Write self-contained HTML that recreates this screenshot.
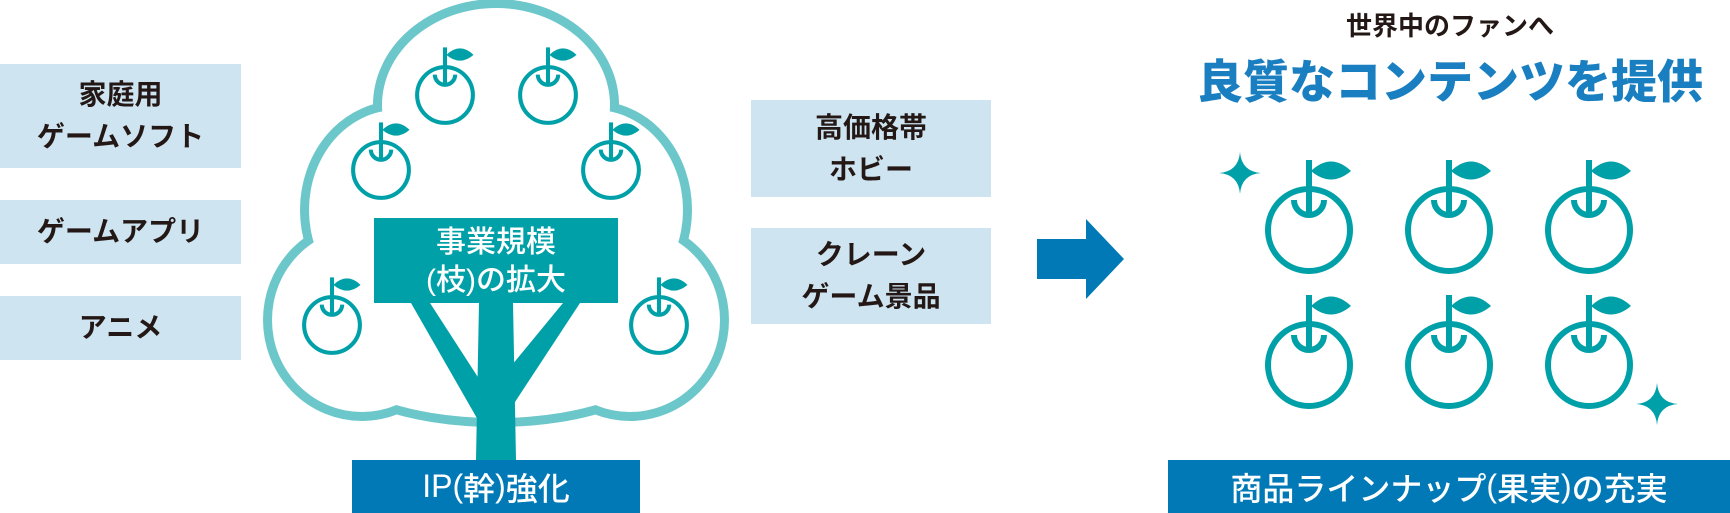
<!DOCTYPE html>
<html><head><meta charset="utf-8"><style>
body{margin:0;width:1730px;height:513px;background:#fff;overflow:hidden;position:relative;font-family:"Liberation Sans","Noto Sans CJK JP",sans-serif;font-weight:700}
.b{position:absolute;background:#cee5f1;color:#231815;display:flex;flex-direction:column;justify-content:center;align-items:center;font-size:28px;line-height:42px}
.t{position:absolute;display:flex;justify-content:center;align-items:center;color:#fff;white-space:nowrap}
.p{font-family:"Liberation Sans",sans-serif;font-weight:400}
svg{position:absolute;left:0;top:0}
</style></head><body>
<svg width="1730" height="513" viewBox="0 0 1730 513">
<defs>
<g id="ap">
<circle cx="0" cy="0" r="41" fill="none" stroke="#00a0a8" stroke-width="6"/>
<line x1="0" y1="-70" x2="0" y2="-17" stroke="#00a0a8" stroke-width="6"/>
<path d="M-15 -30 A15 15 0 0 0 15 -30" fill="none" stroke="#00a0a8" stroke-width="6"/>
<path d="M2 -59 Q22 -78 42 -59 Q22 -42 2 -59 Z" fill="#00a0a8"/>
</g>
<g id="sp"><path d="M0 -21 Q1.5 -1.5 21 0 Q1.5 1.5 0 21 Q-1.5 1.5 -21 0 Q-1.5 -1.5 0 -21Z" fill="#00a0a8"/></g>
</defs>
<g stroke="#6cc7cb" stroke-width="18" fill="#6cc7cb">
<ellipse cx="496" cy="105" rx="114" ry="97"/>
<ellipse cx="397" cy="210" rx="88" ry="100"/><ellipse cx="595" cy="210" rx="88" ry="100"/>
<ellipse cx="362" cy="320" rx="90" ry="92"/><ellipse cx="630" cy="320" rx="90" ry="92"/>
<ellipse cx="496" cy="350" rx="170" ry="68"/>
<ellipse cx="496" cy="250" rx="170" ry="120"/>
</g>
<g fill="#fff">
<ellipse cx="496" cy="105" rx="114" ry="97"/>
<ellipse cx="397" cy="210" rx="88" ry="100"/><ellipse cx="595" cy="210" rx="88" ry="100"/>
<ellipse cx="362" cy="320" rx="90" ry="92"/><ellipse cx="630" cy="320" rx="90" ry="92"/>
<ellipse cx="496" cy="350" rx="170" ry="68"/>
<ellipse cx="496" cy="250" rx="170" ry="120"/>
</g>
<g fill="#00a0a8">
<polygon points="479,303 513,303 516,460 476,460"/>
<polygon points="411,303 430,303 483,385 478,420"/>
<polygon points="563,303 580,303 513,405 512,365"/>
<rect x="374" y="218" width="244" height="85"/>
</g>
<use href="#ap" transform="translate(445,95) scale(.68)"/>
<use href="#ap" transform="translate(548,95) scale(.68)"/>
<use href="#ap" transform="translate(381,170) scale(.68)"/>
<use href="#ap" transform="translate(611,170) scale(.68)"/>
<use href="#ap" transform="translate(332,325) scale(.68)"/>
<use href="#ap" transform="translate(659,325) scale(.68)"/>
<use href="#ap" transform="translate(1309,230)"/>
<use href="#ap" transform="translate(1449,230)"/>
<use href="#ap" transform="translate(1589,230)"/>
<use href="#ap" transform="translate(1309,365)"/>
<use href="#ap" transform="translate(1449,365)"/>
<use href="#ap" transform="translate(1589,365)"/>
<use href="#sp" transform="translate(1240,173)"/>
<use href="#sp" transform="translate(1657,404)"/>
<polygon points="1037,239 1086,239 1086,219 1124,259 1086,299 1086,279 1037,279" fill="#0079b6"/>
<rect x="352" y="460" width="288" height="53" fill="#0079b6"/>
<rect x="1168" y="460" width="562" height="53" fill="#0079b6"/>
</svg>
<div class="b" style="left:0;top:64px;width:241px;height:104px"><div>家庭用</div><div>ゲームソフト</div></div>
<div class="b" style="left:0;top:200px;width:241px;height:64px">ゲームアプリ</div>
<div class="b" style="left:0;top:296px;width:241px;height:64px">アニメ</div>
<div class="b" style="left:751px;top:100px;width:240px;height:97px"><div>高価格帯</div><div>ホビー</div></div>
<div class="b" style="left:751px;top:228px;width:240px;height:96px"><div>クレーン</div><div>ゲーム景品</div></div>
<div class="t" style="left:374px;top:222px;width:244px;height:80px;flex-direction:column;font-size:30px;line-height:38px;font-weight:500"><div>事業規模</div><div><span class="p">(</span>枝<span class="p">)</span>の拡大</div></div>
<div class="t" style="left:352px;top:460px;width:288px;height:53px;font-size:32px;font-weight:500">IP<span class="p">(</span>幹<span class="p">)</span>強化</div>
<div class="t" style="left:1168px;top:460px;width:562px;height:53px;font-size:32px;font-weight:500">商品ラインナップ<span class="p">(</span>果実<span class="p">)</span>の充実</div>
<div class="t" style="left:1250px;top:6px;width:400px;height:36px;font-size:26px;color:#231815">世界中のファンへ</div>
<div class="t" style="left:1150px;top:52px;width:600px;height:54px;font-size:46px;color:#1a7fc1;font-weight:900">良質なコンテンツを提供</div>
</body></html>
